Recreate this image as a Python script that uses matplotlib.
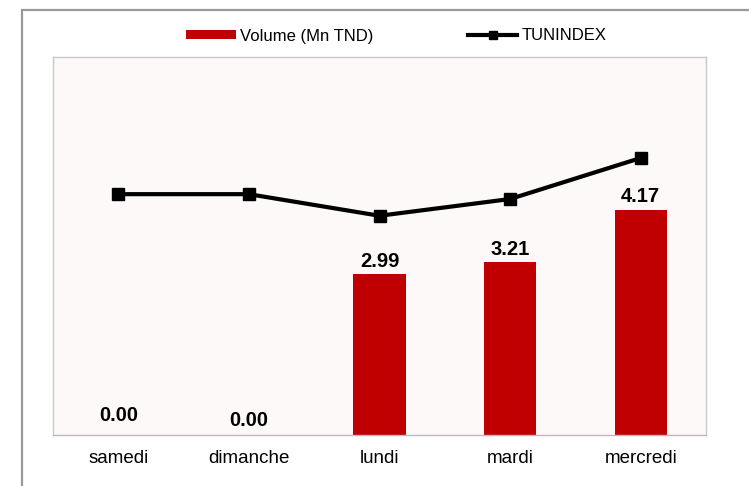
import matplotlib
matplotlib.use("Agg")
import matplotlib.pyplot as plt
from matplotlib.patches import Rectangle, Patch
from matplotlib.lines import Line2D

categories = ["samedi", "dimanche", "lundi", "mardi", "mercredi"]
volume = [0.00, 0.00, 2.99, 3.21, 4.17]
tunindex = [9446, 9446, 9406, 9437, 9513]
label_offsets_pt = [14, 10.5, 9, 9, 9.5]

plt.rcParams['font.family'] = ['Liberation Sans', 'DejaVu Sans']

W, H = 749, 486
fig = plt.figure(figsize=(W / 100, H / 100), dpi=100)
fig.patch.set_facecolor("white")

# outer frame
fig.add_artist(Rectangle((21.5 / W, -0.2), 1.5, 1.2 - 9.5 / H, transform=fig.transFigure,
                         fill=False, edgecolor="#999999", linewidth=1.6, zorder=0))

ax = fig.add_axes([53 / W, 1 - 435 / H, (706 - 53) / W, (435 - 57) / H])
ax.set_facecolor("#FCF9F8")
x = list(range(len(categories)))
bars = ax.bar(x, volume, width=0.40, color="#C00000", zorder=2)
ax.set_xlim(-0.5, len(categories) - 0.5)
ax.set_ylim(0, 7)
ax.set_yticks([])
ax.set_xticks(x)
ax.set_xticklabels(categories, fontsize=13.5, color="black")
ax.tick_params(axis="x", length=0, pad=11)
for s in ax.spines.values():
    s.set_color("#C8C8C8")
    s.set_linewidth(1.0)
ax.spines["bottom"].set_color("#BBBBBB")

for xi, v, off in zip(x, volume, label_offsets_pt):
    ax.annotate(f"{v:.2f}", (xi, v), xytext=(0, off), textcoords="offset points",
                ha="center", va="center", fontsize=14.5, fontweight="bold", color="black")

ax2 = ax.twinx()
ax2.plot(x, tunindex, color="black", linewidth=3.0, marker="s", markersize=8.5, zorder=3)
ax2.set_ylim(9000, 9700)
ax2.set_yticks([])
for s in ax2.spines.values():
    s.set_visible(False)

handles = [Patch(facecolor="#C00000", edgecolor="none"),
           Line2D([0], [0], color="black", linewidth=3.0, marker="s", markersize=5.5)]
fig.legend(handles, ["Volume (Mn TND)", "TUNINDEX"], loc="center",
           bbox_to_anchor=(396.5 / W, 1 - 36 / H), ncol=2, frameon=False,
           fontsize=12, handlelength=2.95, handleheight=0.5, handletextpad=0.25,
           columnspacing=5.7, borderpad=0, borderaxespad=0)

fig.savefig("out.png", dpi=100)
